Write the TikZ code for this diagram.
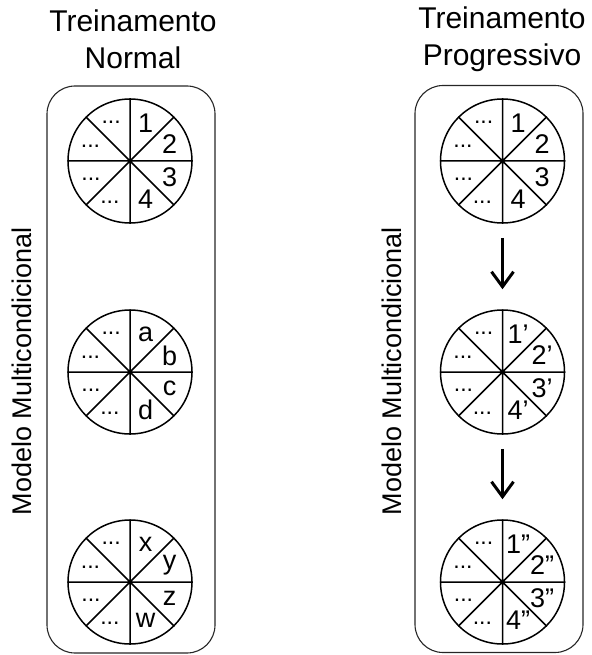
\documentclass[tikz,border=0pt]{standalone}
\usepackage{fontspec}
\setmainfont{Liberation Sans}
\usetikzlibrary{arrows.meta}

\newcommand{\roda}[6]{%
\node[disco] (#1) at (#2) {};
\draw[raio] (#1.north) -- (#1.south) (#1.east) -- (#1.west)
  (#1.north east) -- (#1.south west) (#1.north west) -- (#1.south east);
\fill (#1.center) circle (2.2pt);
\path (#1.center) ++(67.5:41) node[rotulo] {#3};
\path (#1.center) ++(22.5:43) node[rotulo] {#4};
\path (#1.center) ++(-22.5:43) node[rotulo] {#5};
\path (#1.center) ++(-67.5:41) node[rotulo] {#6};
\path (#1.center) ++(116:43) node[pontos] {...};
\path (#1.center) ++(160:42) node[pontos] {...};
\path (#1.center) ++(205:43) node[pontos] {...};
\path (#1.center) ++(244:46) node[pontos] {...};
}

\tikzset{
  disco/.style={circle, draw, line width=1.5pt, minimum size=124pt, inner sep=0pt},
  raio/.style={line width=1.5pt},
  rotulo/.style={inner sep=0pt, font=\fontsize{27}{30}\selectfont},
  pontos/.style={inner sep=0pt, font=\fontsize{23}{26}\selectfont},
  caixa/.style={draw, black!85, line width=1.1pt, rounded corners=28pt, minimum width=168pt, minimum height=567pt},
  titulo/.style={align=center, font=\fontsize{30}{37}\selectfont},
  lateral/.style={rotate=90, font=\fontsize{27}{32}\selectfont},
  seta/.style={line width=3pt, -{Straight Barb[length=15pt,width=22pt,line width=3pt]}}
}

\begin{document}
\begin{tikzpicture}[x=1pt,y=1pt]
\useasboundingbox (0,0) rectangle (591,-655);
\node[caixa] (normal) at (131,-369.5) {};
\node[caixa] (progressivo) at (499,-369) {};
\node[titulo] (tnormal) at (133,-39) {Treinamento\\Normal};
\node[titulo] (tprog) at (502,-39) {Treinamento\\Progressivo};
\node[lateral] (lnormal) at (22,-371) {Modelo Multicondicional};
\node[lateral] (lprog) at (392,-371) {Modelo Multicondicional};

\roda{n1}{130,-161}{1}{2}{3}{4}
\roda{n2}{130,-372}{a}{b}{c}{d}
\roda{n3}{130,-582}{x}{y}{z}{w}

\roda{p1}{502.5,-161}{1}{2}{3}{4}
\roda{p2}{502.5,-372}{1’}{2’}{3’}{4’}
\roda{p3}{502.5,-582}{1”}{2”}{3”}{4”}

\draw[seta, shorten <=14pt, shorten >=20pt] (p1.south) -- (p2.north);
\draw[seta, shorten <=14pt, shorten >=20pt] (p2.south) -- (p3.north);
\end{tikzpicture}
\end{document}
